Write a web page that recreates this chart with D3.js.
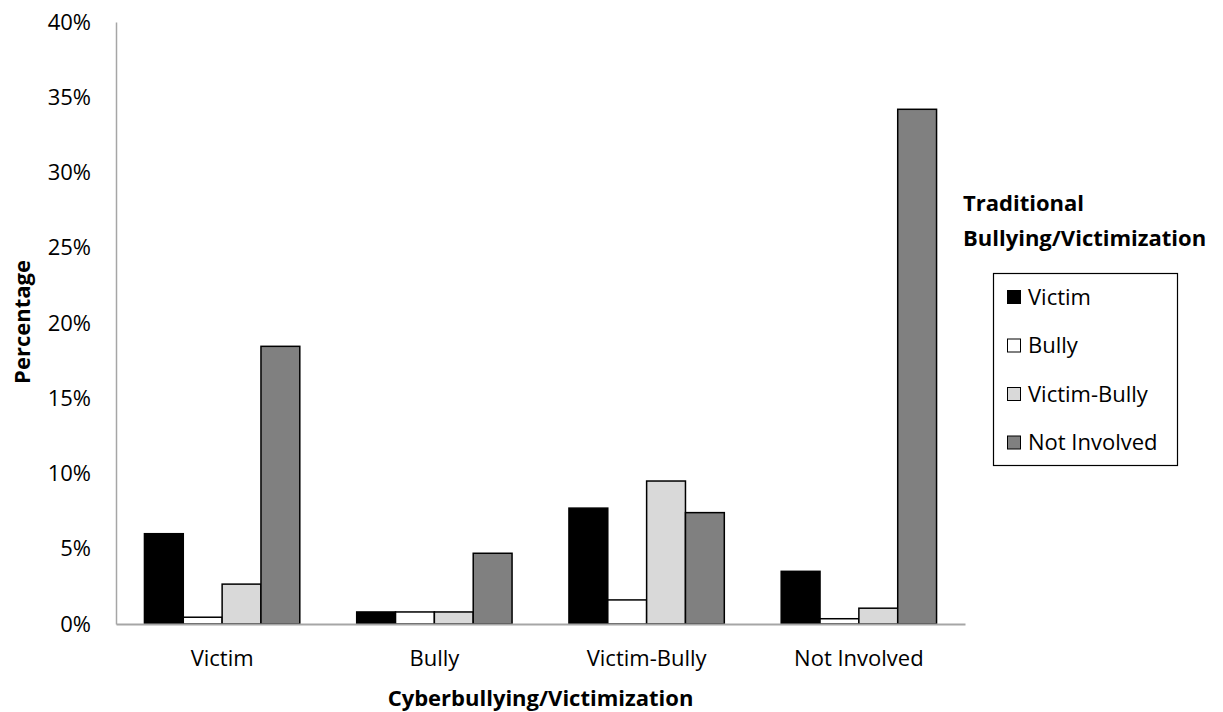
<!DOCTYPE html>
<html>
<head>
<meta charset="utf-8">
<script src="https://cdn.jsdelivr.net/npm/d3@7"></script>
<style>
  body { margin: 0; background: #fff; }
  svg { display: block; }
  text { font-family: "Open Sans", Lato, sans-serif; fill: #000; }
</style>
</head>
<body>
<svg id="chart" width="1223" height="712"></svg>
<script>
// Cyberbullying/victimization groups on the x axis
const categories = ["Victim", "Bully", "Victim-Bully", "Not Involved"];
// Traditional bullying/victimization series
const seriesNames = ["Victim", "Bully", "Victim-Bully", "Not Involved"];
const seriesFills = ["#000000", "#ffffff", "#d9d9d9", "#808080"];
// Percentages, one array per series, in category order
const victimValues      = [6.0, 0.8, 7.7, 3.5];
const bullyValues       = [0.45, 0.8, 1.6, 0.35];
const victimBullyValues = [2.65, 0.8, 9.5, 1.05];
const notInvolvedValues = [18.45, 4.7, 7.4, 34.2];
const yTicks = [0, 5, 10, 15, 20, 25, 30, 35, 40];

const seriesValues = [victimValues, bullyValues, victimBullyValues, notInvolvedValues];

const FONT = "\"Open Sans\", Lato, sans-serif";
const FS = "22px";

const svg = d3.select("#chart");
const plot = { left: 116, right: 965, top: 22, bottom: 624 };

const x0 = d3.scaleBand().domain(categories).range([plot.left, plot.right])
  .paddingInner(0.268).paddingOuter(0.134);
const x1 = d3.scaleBand().domain(seriesNames).range([0, x0.bandwidth()]).padding(0);
const y = d3.scaleLinear().domain([0, 40]).range([plot.bottom, plot.top]);

// Bars
const groups = svg.append("g").selectAll("g")
  .data(categories)
  .join("g")
  .attr("transform", d => `translate(${x0(d)},0)`);

groups.selectAll("rect")
  .data((c, ci) => seriesNames.map((s, si) => ({ s, si, v: seriesValues[si][ci] })))
  .join("rect")
  .attr("x", d => x1(d.s))
  .attr("width", x1.bandwidth())
  .attr("y", d => y(d.v))
  .attr("height", d => y(0) - y(d.v))
  .attr("fill", d => seriesFills[d.si])
  .attr("stroke", "#000")
  .attr("stroke-width", 1.5);

// Y axis
const yAxis = svg.append("g")
  .attr("transform", `translate(${plot.left},0)`)
  .call(d3.axisLeft(y).tickValues(yTicks).tickFormat(d => d + "%").tickSize(0).tickPadding(25));
yAxis.select(".domain").attr("stroke", "#a6a6a6").attr("stroke-width", 1.5);
yAxis.selectAll("text").style("font-size", FS).style("font-family", FONT);

// X axis
const xAxis = svg.append("g")
  .attr("transform", `translate(0,${plot.bottom})`)
  .call(d3.axisBottom(x0).tickSize(0).tickPadding(26).tickSizeOuter(0));
xAxis.select(".domain").attr("stroke", "#a6a6a6").attr("stroke-width", 2);
xAxis.selectAll("text").style("font-size", FS).style("font-family", FONT);

// Axis titles
svg.append("text")
  .attr("x", (plot.left + plot.right) / 2).attr("y", 706)
  .attr("text-anchor", "middle")
  .style("font-size", FS).style("font-weight", "bold")
  .text("Cyberbullying/Victimization");

svg.append("text")
  .attr("transform", "translate(30,322) rotate(-90)")
  .attr("text-anchor", "middle")
  .style("font-size", FS).style("font-weight", "bold")
  .text("Percentage");

// Legend title
svg.append("text").attr("x", 963).attr("y", 211)
  .style("font-size", FS).style("font-weight", "bold").text("Traditional");
svg.append("text").attr("x", 963).attr("y", 246)
  .style("font-size", FS).style("font-weight", "bold").text("Bullying/Victimization");

// Legend box
svg.append("rect")
  .attr("x", 993.5).attr("y", 273.5).attr("width", 184).attr("height", 192)
  .attr("fill", "#fff").attr("stroke", "#000").attr("stroke-width", 1.2);

const legend = svg.append("g").selectAll("g")
  .data(seriesNames)
  .join("g")
  .attr("transform", (d, i) => `translate(1007,${297 + i * 48.5})`);

legend.append("rect")
  .attr("x", 0.5).attr("y", -6.5).attr("width", 13).attr("height", 13)
  .attr("fill", (d, i) => seriesFills[i])
  .attr("stroke", "#000").attr("stroke-width", 1);

legend.append("text")
  .attr("x", 21).attr("y", 0).attr("dy", "0.35em")
  .style("font-size", FS)
  .text(d => d);
</script>
</body>
</html>
